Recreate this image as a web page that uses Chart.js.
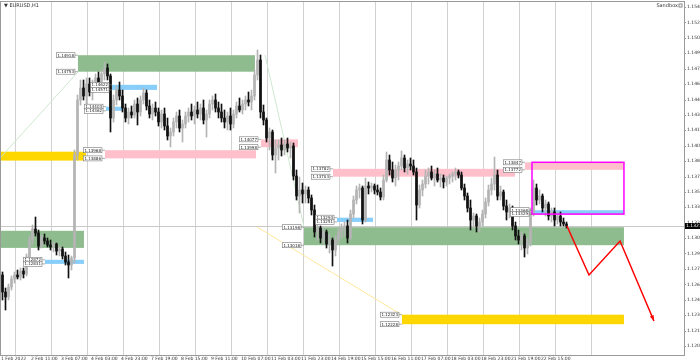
<!DOCTYPE html>
<html lang="en">
<head>
<meta charset="UTF-8">
<title>EURUSD,H1</title>
<style>
  html, body { margin: 0; padding: 0; background: #fff; }
  canvas { display: block; }
</style>
</head>
<body>
<canvas id="chart" width="700" height="362"></canvas>
<script src="https://cdn.jsdelivr.net/npm/chart.js"></script>
<script>
// H1 chart, one candle per two hours; hour 0 = 1 Feb 15:00
const opens = [
  1.1272,1.1255,1.1250,1.1260,1.1268,1.1272,1.1270,1.1276,1.1273,1.1290,
  1.1307,1.1318,1.1314,1.1301,1.1309,1.1306,1.1302,1.1300,1.1303,1.1296,
  1.1298,1.1291,1.1285,1.1282,1.1289,1.1392,1.1447,1.1459,1.1451,1.1463,
  1.1455,1.1463,1.1469,1.1461,1.1473,1.1479,1.1471,1.1429,1.1447,1.1457,
  1.1451,1.1439,1.1429,1.1435,1.1432,1.1443,1.1435,1.1447,1.1454,1.1441,
  1.1433,1.1439,1.1435,1.1425,1.1433,1.1421,1.1411,1.1415,1.1425,1.1431,
  1.1419,1.1423,1.1431,1.1435,1.1431,1.1437,1.1433,1.1439,1.1427,1.1433,
  1.1443,1.1447,1.1439,1.1435,1.1429,1.1425,1.1431,1.1423,1.1433,1.1441,
  1.1437,1.1443,1.1447,1.1445,1.1451,1.1472,1.1487,1.1435,1.1427,1.1409,
  1.1415,1.1392,1.1399,1.1402,1.1397,1.1403,1.1399,1.1401,1.1371,1.1351,
  1.1357,1.1353,1.1357,1.1349,1.1337,1.1315,1.1319,1.1309,1.1315,1.1303,
  1.1307,1.1297,1.1307,1.1315,1.1319,1.1321,1.1309,1.1333,1.1347,1.1357,
  1.1359,1.1327,1.1361,1.1359,1.1361,1.1357,1.1355,1.1350,1.1367,1.1387,
  1.1377,1.1369,1.1377,1.1381,1.1389,1.1379,1.1383,1.1381,1.1375,1.1342,
  1.1357,1.1363,1.1371,1.1375,1.1369,1.1373,1.1367,1.1369,1.1365,1.1369,
  1.1371,1.1373,1.1375,1.1372,1.1359,1.1351,1.1339,1.1327,1.1331,1.1321,
  1.1325,1.1333,1.1345,1.1357,1.1363,1.1372,1.1351,1.1355,1.1341,1.1335,
  1.1339,1.1321,1.1311,1.1307,1.1311,1.1299,1.1305,1.1335,1.1359,1.1347,
  1.1351,1.1339,1.1343,1.1331,1.1335,1.1327,1.1331,1.1325,1.1323
];
const highs = [
  1.1275,1.1259,1.1263,1.1271,1.1275,1.1277,1.1279,1.1279,1.1293,1.1311,
  1.1322,1.1330,1.1317,1.1312,1.1313,1.1309,1.1307,1.1305,1.1304,1.1301,
  1.1300,1.1295,1.1292,1.1291,1.1397,1.1452,1.1467,1.1467,1.1469,1.1469,
  1.1467,1.1473,1.1475,1.1477,1.1485,1.1483,1.1473,1.1452,1.1461,1.1465,
  1.1457,1.1443,1.1439,1.1441,1.1447,1.1449,1.1451,1.1459,1.1457,1.1447,
  1.1443,1.1445,1.1439,1.1437,1.1439,1.1429,1.1419,1.1429,1.1435,1.1437,
  1.1427,1.1435,1.1439,1.1443,1.1441,1.1445,1.1443,1.1447,1.1437,1.1447,
  1.1451,1.1453,1.1445,1.1443,1.1437,1.1435,1.1439,1.1437,1.1445,1.1449,
  1.1447,1.1451,1.1455,1.1457,1.1477,1.1497,1.1492,1.1442,1.1429,1.1419,
  1.1417,1.1407,1.1407,1.1409,1.1407,1.1409,1.1405,1.1404,1.1377,1.1370,
  1.1364,1.1361,1.1360,1.1352,1.1342,1.1323,1.1321,1.1319,1.1317,1.1313,
  1.1309,1.1311,1.1319,1.1323,1.1325,1.1327,1.1337,1.1351,1.1361,1.1363,
  1.1361,1.1369,1.1365,1.1364,1.1363,1.1362,1.1359,1.1372,1.1395,1.1392,
  1.1385,1.1382,1.1385,1.1396,1.1392,1.1387,1.1389,1.1387,1.1379,1.1362,
  1.1367,1.1377,1.1379,1.1381,1.1377,1.1379,1.1373,1.1372,1.1371,1.1373,
  1.1375,1.1379,1.1377,1.1375,1.1363,1.1354,1.1347,1.1334,1.1333,1.1329,
  1.1337,1.1349,1.1362,1.1369,1.1390,1.1377,1.1361,1.1357,1.1347,1.1343,
  1.1341,1.1325,1.1317,1.1315,1.1313,1.1309,1.1339,1.1367,1.1363,1.1357,
  1.1353,1.1347,1.1345,1.1339,1.1339,1.1335,1.1335,1.1329,1.1325
];
const lows = [
  1.1247,1.1237,1.1247,1.1257,1.1264,1.1268,1.1267,1.1269,1.1271,1.1287,
  1.1303,1.1311,1.1297,1.1299,1.1303,1.1300,1.1297,1.1295,1.1292,1.1291,
  1.1288,1.1282,1.1269,1.1277,1.1284,1.1387,1.1442,1.1447,1.1443,1.1451,
  1.1447,1.1457,1.1457,1.1457,1.1467,1.1467,1.1415,1.1425,1.1442,1.1447,
  1.1435,1.1425,1.1423,1.1429,1.1429,1.1422,1.1431,1.1443,1.1437,1.1429,
  1.1427,1.1431,1.1421,1.1419,1.1417,1.1407,1.1400,1.1411,1.1419,1.1415,
  1.1405,1.1419,1.1425,1.1427,1.1423,1.1429,1.1427,1.1423,1.1410,1.1429,
  1.1437,1.1435,1.1429,1.1425,1.1419,1.1417,1.1417,1.1419,1.1429,1.1435,
  1.1433,1.1437,1.1441,1.1437,1.1447,1.1467,1.1429,1.1422,1.1405,1.1397,
  1.1387,1.1374,1.1387,1.1391,1.1392,1.1395,1.1389,1.1367,1.1347,1.1334,
  1.1344,1.1344,1.1344,1.1332,1.1310,1.1307,1.1304,1.1303,1.1299,1.1294,
  1.1281,1.1291,1.1303,1.1309,1.1311,1.1304,1.1307,1.1329,1.1343,1.1349,
  1.1323,1.1325,1.1353,1.1355,1.1353,1.1352,1.1347,1.1347,1.1365,1.1372,
  1.1365,1.1361,1.1367,1.1377,1.1375,1.1373,1.1377,1.1372,1.1327,1.1339,
  1.1351,1.1359,1.1363,1.1367,1.1361,1.1365,1.1360,1.1359,1.1361,1.1363,
  1.1365,1.1367,1.1369,1.1357,1.1347,1.1335,1.1317,1.1319,1.1315,1.1315,
  1.1321,1.1329,1.1341,1.1352,1.1357,1.1347,1.1347,1.1337,1.1327,1.1329,
  1.1317,1.1307,1.1303,1.1297,1.1290,1.1293,1.1301,1.1331,1.1342,1.1343,
  1.1335,1.1331,1.1327,1.1325,1.1321,1.1323,1.1321,1.1321,1.1319
];
const closes = [
  1.1255,1.1250,1.1260,1.1268,1.1272,1.1270,1.1276,1.1273,1.1290,1.1307,
  1.1318,1.1314,1.1301,1.1309,1.1306,1.1302,1.1300,1.1303,1.1296,1.1298,
  1.1291,1.1285,1.1282,1.1289,1.1392,1.1447,1.1459,1.1451,1.1463,1.1455,
  1.1463,1.1469,1.1461,1.1473,1.1479,1.1471,1.1429,1.1447,1.1457,1.1451,
  1.1439,1.1429,1.1435,1.1432,1.1443,1.1435,1.1447,1.1454,1.1441,1.1433,
  1.1439,1.1435,1.1425,1.1433,1.1421,1.1411,1.1415,1.1425,1.1431,1.1419,
  1.1423,1.1431,1.1435,1.1431,1.1437,1.1433,1.1439,1.1427,1.1433,1.1443,
  1.1447,1.1439,1.1435,1.1429,1.1425,1.1431,1.1423,1.1433,1.1441,1.1437,
  1.1443,1.1447,1.1445,1.1451,1.1472,1.1487,1.1435,1.1427,1.1409,1.1415,
  1.1392,1.1399,1.1402,1.1397,1.1403,1.1399,1.1401,1.1371,1.1351,1.1357,
  1.1353,1.1357,1.1349,1.1337,1.1315,1.1319,1.1309,1.1315,1.1303,1.1307,
  1.1297,1.1307,1.1315,1.1319,1.1321,1.1309,1.1333,1.1347,1.1357,1.1359,
  1.1327,1.1361,1.1359,1.1361,1.1357,1.1355,1.1350,1.1367,1.1387,1.1377,
  1.1369,1.1377,1.1381,1.1389,1.1379,1.1383,1.1381,1.1375,1.1342,1.1357,
  1.1363,1.1371,1.1375,1.1369,1.1373,1.1367,1.1369,1.1365,1.1369,1.1371,
  1.1373,1.1375,1.1372,1.1359,1.1351,1.1339,1.1327,1.1331,1.1321,1.1325,
  1.1333,1.1345,1.1357,1.1363,1.1372,1.1351,1.1355,1.1341,1.1335,1.1339,
  1.1321,1.1311,1.1307,1.1311,1.1299,1.1305,1.1335,1.1359,1.1347,1.1351,
  1.1339,1.1343,1.1331,1.1335,1.1327,1.1331,1.1325,1.1323,1.1321
];

// axis ticks
const priceTicks = [1.15400,1.15246,1.15092,1.14938,1.14784,1.14629,1.14475,1.14321,
  1.14167,1.14013,1.13859,1.13705,1.13551,1.13397,1.13243,1.13089,1.12935,1.12780,
  1.12626,1.12472,1.12318,1.12164,1.12010];
const timeTicks = [0,20,40,60,80,100,120,140,160,180,200,220,240,260,280,300,320,340,360];
const timeLabels = ['1 Feb 2022','2 Feb 11:00','3 Feb 07:00','4 Feb 03:00','4 Feb 23:00',
  '7 Feb 19:00','8 Feb 15:00','9 Feb 11:00','10 Feb 07:00','11 Feb 03:00','11 Feb 23:00',
  '14 Feb 19:00','15 Feb 15:00','16 Feb 11:00','17 Feb 07:00','18 Feb 03:00','18 Feb 23:00',
  '21 Feb 19:00','22 Feb 15:00'];
const daySeparators = [9,33,57,81,105,129,153,177,201,225,249,273,297,321,345,369,393];
const bidPrice = 1.1321;

// supply / demand zones
const zoneKind  = ['gold','green','blue','green','blue','blue','pink','pink','pink','blue','green','pink','blue','gold'];
const zoneFrom  = [0, 0, 29.3, 51.3, 74, 70, 69.3, 173.3, 221.3, 224, 202, 349.3, 354, 267.3];
const zoneTo    = [56.7, 55.3, 55.3, 169.3, 104, 80.7, 170, 198, 342.7, 248, 415.3, 415.3, 415.3, 415.3];
const zoneHigh  = [1.13953,1.13162,1.12872,1.14918,1.14622,1.14403,1.13968,1.14077,1.13782,1.13293,1.13198,1.13847,1.13368,1.12323];
const zoneLow   = [1.13864,1.12991,1.12831,1.14753,1.14571,1.14362,1.13886,1.13998,1.13703,1.13251,1.13018,1.13772,1.13329,1.12228];
const zoneLabel = [false,false,true,true,true,true,true,true,true,true,true,true,true,true];

// magenta box
const boxFrom = 354, boxTo = 415.3, boxHigh = 1.13847, boxLow = 1.13329;

// drawn lines
const greenLine1 = [{x: 0, y: 1.1390}, {x: 51.3, y: 1.1475}];
const greenLine2 = [{x: 176, y: 1.1492}, {x: 202, y: 1.1320}];
const yellowLine = [{x: 170.7, y: 1.1320}, {x: 267.3, y: 1.1232}];
const forecastHours  = [377.3, 392, 412.7, 435.3];
const forecastPrices = [1.1321, 1.1272, 1.1306, 1.1226];

const colors = { green: '#8fbc8f', pink: '#ffc0cb', blue: '#87cefa', gold: '#ffd700' };
const bullColor = '#b4b4b4', bearColor = '#111111';
const FONT = 'DejaVu Sans';

const hoursOf = opens.map((_, i) => 2 * i + 1);
const isBull = opens.map((o, i) => closes[i] >= o);
const candleColors = isBull.map(b => b ? bullColor : bearColor);

const overlay = {
  id: 'overlay',
  beforeDatasetsDraw(chart) {
    const { ctx, chartArea: a, scales: { x, y } } = chart;
    ctx.save();
    ctx.beginPath();
    ctx.rect(a.left, a.top, a.right - a.left, a.bottom - a.top);
    ctx.clip();
    ctx.strokeStyle = '#d2d2d2';
    ctx.lineWidth = 1;
    daySeparators.forEach(h => {
      const px = Math.round(x.getPixelForValue(h)) + 0.5;
      ctx.beginPath(); ctx.moveTo(px, a.top); ctx.lineTo(px, a.bottom); ctx.stroke();
    });
    const by = Math.round(y.getPixelForValue(bidPrice)) + 0.5;
    ctx.strokeStyle = '#c8c8c8';
    ctx.beginPath(); ctx.moveTo(a.left, by); ctx.lineTo(a.right, by); ctx.stroke();
    zoneKind.forEach((k, i) => {
      const x0 = x.getPixelForValue(zoneFrom[i]), x1 = x.getPixelForValue(zoneTo[i]);
      const y0 = y.getPixelForValue(zoneHigh[i]), y1 = y.getPixelForValue(zoneLow[i]);
      ctx.fillStyle = colors[k];
      ctx.fillRect(x0, y0, x1 - x0, y1 - y0);
    });
    ctx.restore();
  },
  afterDatasetsDraw(chart) {
    const { ctx, chartArea: a, scales: { x, y } } = chart;
    ctx.save();
    // magenta box
    const bx0 = x.getPixelForValue(boxFrom), bx1 = x.getPixelForValue(boxTo);
    const by0 = y.getPixelForValue(boxHigh), by1 = y.getPixelForValue(boxLow);
    ctx.strokeStyle = '#ff00ff';
    ctx.lineWidth = 1.5;
    ctx.strokeRect(bx0, by0, bx1 - bx0, by1 - by0);
    // zone price labels
    ctx.font = '4px ' + FONT;
    ctx.textBaseline = 'middle';
    ctx.lineWidth = 0.6;
    zoneKind.forEach((k, i) => {
      if (!zoneLabel[i]) return;
      const xs = x.getPixelForValue(zoneFrom[i]);
      [zoneHigh[i], zoneLow[i]].forEach(p => {
        const t = p.toFixed(5);
        const w = ctx.measureText(t).width + 2;
        const py = y.getPixelForValue(p);
        const right = xs - 3;
        ctx.fillStyle = '#fff';
        ctx.fillRect(right - w, py - 2.5, w, 5);
        ctx.strokeStyle = '#777';
        ctx.strokeRect(right - w, py - 2.5, w, 5);
        ctx.beginPath(); ctx.moveTo(right, py); ctx.lineTo(xs, py); ctx.stroke();
        ctx.fillStyle = '#222';
        ctx.textAlign = 'left';
        ctx.fillText(t, right - w + 1, py + 0.3);
      });
    });
    // arrow head of the forecast path
    const n = forecastHours.length;
    const px = x.getPixelForValue(forecastHours[n - 1]), py = y.getPixelForValue(forecastPrices[n - 1]);
    const qx = x.getPixelForValue(forecastHours[n - 2]), qy = y.getPixelForValue(forecastPrices[n - 2]);
    const ang = Math.atan2(py - qy, px - qx);
    ctx.fillStyle = '#ff0000';
    ctx.beginPath();
    ctx.moveTo(px, py);
    ctx.lineTo(px - 6 * Math.cos(ang - 0.35), py - 6 * Math.sin(ang - 0.35));
    ctx.lineTo(px - 6 * Math.cos(ang + 0.35), py - 6 * Math.sin(ang + 0.35));
    ctx.closePath();
    ctx.fill();
    ctx.restore();
  },
  afterDraw(chart) {
    const { ctx, chartArea: a, scales: { y } } = chart;
    ctx.save();
    ctx.strokeStyle = '#9a9a9a';
    ctx.lineWidth = 1;
    ctx.strokeRect(a.left - 0.5, a.top - 0.5, a.right - a.left + 1, a.bottom - a.top + 1);
    // tick marks on price axis
    priceTicks.forEach(p => {
      const ty = Math.round(y.getPixelForValue(p)) + 0.5;
      ctx.beginPath(); ctx.moveTo(a.right, ty); ctx.lineTo(a.right + 2, ty); ctx.stroke();
    });
    // bid label
    const by = y.getPixelForValue(bidPrice);
    ctx.fillStyle = '#000';
    ctx.fillRect(a.right + 1, by - 3, 16, 6);
    ctx.fillStyle = '#fff';
    ctx.font = '4.5px ' + FONT;
    ctx.textBaseline = 'middle';
    ctx.textAlign = 'left';
    ctx.fillText(bidPrice.toFixed(5), a.right + 2, by + 0.3);
    // titles
    ctx.fillStyle = '#333';
    ctx.font = '5px ' + FONT;
    ctx.fillText('\u25BC EURUSD,H1', a.left + 3, a.top + 4);
    ctx.textAlign = 'right';
    ctx.fillText('Sandbox', a.right - 6, a.top + 4);
    ctx.strokeStyle = '#888';
    ctx.strokeRect(a.right - 5, a.top + 2, 3, 3);
    ctx.restore();
  }
};

new Chart(document.getElementById('chart'), {
  type: 'bar',
  data: {
    datasets: [
      {
        type: 'line', data: greenLine1, borderColor: '#cfe8cf', borderWidth: 1,
        pointRadius: 0, order: 5
      },
      {
        type: 'line', data: greenLine2, borderColor: '#cfe8cf', borderWidth: 1,
        pointRadius: 0, order: 5
      },
      {
        type: 'line', data: yellowLine, borderColor: '#ffe79a', borderWidth: 1,
        pointRadius: 0, order: 5
      },
      {
        label: 'wicks',
        data: hoursOf.map((h, i) => ({ x: h, y: [lows[i], highs[i]] })),
        backgroundColor: candleColors, barThickness: 1, grouped: false, order: 3
      },
      {
        label: 'bodies',
        data: hoursOf.map((h, i) => ({ x: h, y: [Math.min(opens[i], closes[i]), Math.max(opens[i], closes[i])] })),
        backgroundColor: candleColors, barThickness: 2, minBarLength: 1, grouped: false, order: 2
      },
      {
        type: 'line',
        data: forecastHours.map((h, i) => ({ x: h, y: forecastPrices[i] })),
        borderColor: '#ff0000', borderWidth: 1.5, pointRadius: 0, order: 1
      }
    ]
  },
  options: {
    responsive: false,
    animation: false,
    devicePixelRatio: 1,
    layout: { padding: { left: 1, top: 2, right: 0, bottom: 0 } },
    plugins: { legend: { display: false }, tooltip: { enabled: false } },
    scales: {
      x: {
        type: 'linear', min: 0, max: 455.33, position: 'bottom', offset: false,
        grid: { display: false, drawTicks: false, offset: false },
        border: { display: false },
        afterBuildTicks: s => { s.ticks = timeTicks.map(v => ({ value: v })); },
        afterFit: s => { s.height = 7; s.paddingLeft = 0; s.paddingRight = 0; },
        ticks: {
          autoSkip: false, maxRotation: 0, align: 'start', padding: 1,
          color: '#333', font: { family: FONT, size: 4.5 },
          callback: (v, i) => timeLabels[i]
        }
      },
      y: {
        type: 'linear', position: 'right', min: 1.1192, max: 1.1545,
        grid: { display: false, drawTicks: false },
        border: { display: false },
        afterBuildTicks: s => { s.ticks = priceTicks.map(v => ({ value: v })); },
        afterFit: s => { s.width = 16; s.paddingTop = 0; s.paddingBottom = 0; },
        ticks: {
          autoSkip: false, padding: 3, color: '#333',
          font: { family: FONT, size: 4.5 },
          callback: v => v.toFixed(5)
        }
      }
    }
  },
  plugins: [overlay]
});
</script>
</body>
</html>
